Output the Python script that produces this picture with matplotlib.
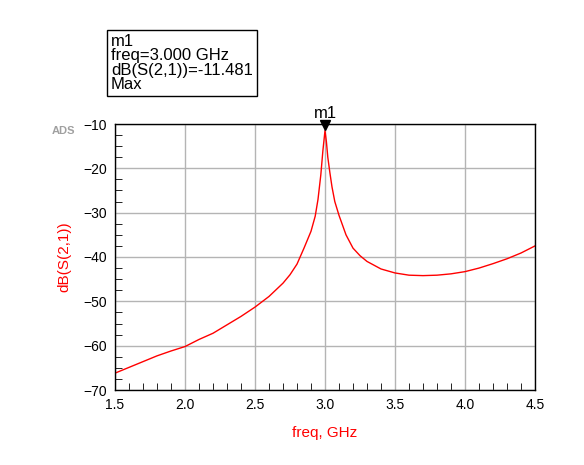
import matplotlib
matplotlib.use("Agg")
import matplotlib.pyplot as plt
from matplotlib.ticker import MultipleLocator

freq = [1.5, 1.6, 1.7, 1.8, 1.9, 2.0, 2.1, 2.2, 2.3, 2.4, 2.5, 2.6, 2.7, 2.75, 2.8, 2.85,
        2.9, 2.93, 2.95, 2.97, 2.985, 3.0, 3.01, 3.02, 3.035, 3.05, 3.07, 3.1, 3.15, 3.2,
        3.25, 3.3, 3.4, 3.5, 3.6, 3.7, 3.8, 3.9, 4.0, 4.1, 4.2, 4.3, 4.4, 4.5]
s21 = [-66.2, -64.9, -63.6, -62.3, -61.2, -60.2, -58.6, -57.2, -55.3, -53.4, -51.3, -48.9,
       -45.9, -44.0, -41.6, -38.0, -34.2, -30.8, -27.0, -21.5, -16.0, -11.481, -14.0, -17.5,
       -21.0, -24.2, -27.5, -30.6, -35.0, -38.0, -39.7, -41.0, -42.7, -43.6, -44.1, -44.2,
       -44.1, -43.8, -43.3, -42.5, -41.5, -40.4, -39.1, -37.5]
xticks = [1.5, 2.0, 2.5, 3.0, 3.5, 4.0, 4.5]
yticks = [-70, -60, -50, -40, -30, -20, -10]

plt.rcParams['font.family'] = ['Liberation Sans', 'DejaVu Sans']
fig = plt.figure(figsize=(5.84, 4.65), dpi=100)
ax = fig.add_axes([115/584, 1-390/465, 420/584, 266/465])
ax.plot(freq, s21, color='red', lw=1)
ax.set_xlim(1.5, 4.5)
ax.set_ylim(-70, -10)
ax.set_xticks(xticks)
ax.set_yticks(yticks)
ax.set_xticklabels([f"{t:.1f}" for t in xticks])
ax.xaxis.set_minor_locator(MultipleLocator(0.1))
ax.yaxis.set_minor_locator(MultipleLocator(2.5))
ax.tick_params(which='major', direction='in', length=0, labelsize=10, pad=6)
ax.tick_params(which='minor', direction='in', length=5)
ax.grid(True, which='major', color='#b4b4b4', lw=1)
for s in ax.spines.values():
    s.set_linewidth(1)
ax.set_xlabel("freq, GHz", color='red', fontsize=11, labelpad=10)
ax.set_ylabel("dB(S(2,1))", color='red', fontsize=11, labelpad=8)
ax.plot([3.0], [-10.3], marker='v', color='black', ms=7, clip_on=False)
ax.text(3.0, -9.3, "m1", ha='center', va='bottom', fontsize=12)
fig.text(52/584, 1-134/465, "ADS", color='#a0a0a0', fontsize=8, weight='bold')
fig.text(111/584, 1-92/465, "m1\nfreq=3.000 GHz\ndB(S(2,1))=-11.481\nMax",
         fontsize=12, va='bottom', ha='left', linespacing=0.95,
         bbox=dict(boxstyle='square,pad=0.25', fc='white', ec='black', lw=1))
fig.savefig("out.png", dpi=100)
